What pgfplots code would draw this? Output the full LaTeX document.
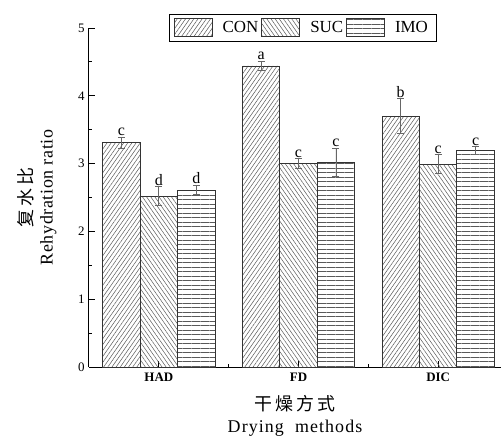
\documentclass[border=0pt]{standalone}
\usepackage{pgfplots}
\pgfplotsset{compat=1.18}
\usepackage{pgfplotstable}
\usetikzlibrary{patterns.meta}
\usepackage{fontspec}
\setmainfont{Liberation Serif}
\newfontfamily\cjk[LetterSpace=18]{Noto Sans CJK SC}
\newfontfamily\spaced[LetterSpace=6]{Liberation Serif}
\newfontfamily\yspaced[LetterSpace=3.5]{Liberation Serif}

% rehydration ratio, mean and error, with significance letters
\pgfplotstableread{
x y err lbl
0 3.31 0.08 c
1 4.44 0.07 a
2 3.70 0.26 b
}\con
\pgfplotstableread{
x y err lbl
0 2.52 0.14 d
1 3.00 0.07 c
2 2.99 0.14 c
}\suc
\pgfplotstableread{
x y err lbl
0 2.61 0.07 d
1 3.02 0.21 c
2 3.19 0.06 c
}\imo

\pgfplotsset{
  barstyle/.style={ybar, bar width=0.268, bar shift=0, draw=black!80, line width=0.8bp,
    pattern color=black!65,
    error bars/y dir=both, error bars/y explicit,
    error bars/error bar style={black!60, line width=0.8bp},
    error bars/error mark options={rotate=90, mark size=3.5bp, black!60, line width=0.8bp}},
  letters/.style={draw=none, mark=none, forget plot, nodes near coords,
    point meta=explicit symbolic,
    nodes near coords style={black, anchor=south, inner sep=1bp,
      font=\fontsize{16}{18}\selectfont}},
}

\begin{document}
\begin{tikzpicture}
\begin{axis}[
  name=ax,
  scale only axis, width=412bp, height=339bp,
  xmin=-0.5, xmax=2.45, ymin=0, ymax=5,
  axis lines*=left,
  axis line style={line width=1bp},
  xtick={0,1,2}, xticklabels={HAD,FD,DIC}, minor xtick={0.5,1.5},
  ytick={0,1,2,3,4,5}, minor ytick={0.5,1.5,2.5,3.5,4.5},
  tick align=inside, major tick length=6bp, minor tick length=3.5bp,
  tick style={black, line width=0.8bp},
  /pgf/number format/assume math mode=true,
  yticklabel style={font=\fontsize{13}{15}\selectfont, xshift=-1bp},
  xticklabel style={font=\bfseries\fontsize{13}{15}\selectfont, yshift=-2bp},
  ylabel={{\cjk\fontsize{18}{20}\selectfont 复水比}\\{\yspaced Rehydration\ ratio}},
  ylabel style={at={(axis description cs:-0.126,0.5)}, anchor=center,
    align=center, font=\fontsize{18}{20}\selectfont},
  xlabel={{\cjk\fontsize{18}{20}\selectfont 干燥方式}\\{\spaced Drying\ \ methods}},
  xlabel style={at={(axis description cs:0.5,-0.143)}, anchor=center,
    align=center, font=\fontsize{18}{22}\selectfont},
  legend columns=3,
  legend style={at={(axis description cs:0.518,1.041)}, anchor=north,
    draw=black, line width=0.8bp, inner xsep=5bp, inner ysep=4bp,
    font=\fontsize{17}{19}\selectfont,
    nodes={inner xsep=3bp},
    /tikz/every even column/.append style={column sep=0bp},
    /tikz/every odd column/.append style={column sep=7bp}},
  legend image code/.code={\draw[#1] (0bp,-9bp) rectangle (38bp,9bp);},
]
\addplot[barstyle,
  pattern={Lines[angle=55,distance=3.4bp,line width=0.5bp]}]
  table[x expr=\thisrow{x}-0.268, y=y, y error=err]{\con};
\addlegendentry{CON}
\addplot[barstyle,
  pattern={Lines[angle=-55,distance=3.4bp,line width=0.5bp]}]
  table[x=x, y=y, y error=err]{\suc};
\addlegendentry{SUC}
\addplot[barstyle,
  pattern={Lines[angle=0,distance=4.5bp,line width=0.5bp]}]
  table[x expr=\thisrow{x}+0.268, y=y, y error=err]{\imo};
\addlegendentry{IMO}

\addplot[letters] table[x expr=\thisrow{x}-0.268, y expr=\thisrow{y}+\thisrow{err}, meta=lbl]{\con};
\addplot[letters] table[x expr=\thisrow{x}, y expr=\thisrow{y}+\thisrow{err}, meta=lbl]{\suc};
\addplot[letters] table[x expr=\thisrow{x}+0.268, y expr=\thisrow{y}+\thisrow{err}, meta=lbl]{\imo};
\end{axis}
\pgfresetboundingbox
\path ([shift={(-89bp,-71bp)}]ax.south west) rectangle ([shift={(1bp,28bp)}]ax.north east);
\end{tikzpicture}
\end{document}
